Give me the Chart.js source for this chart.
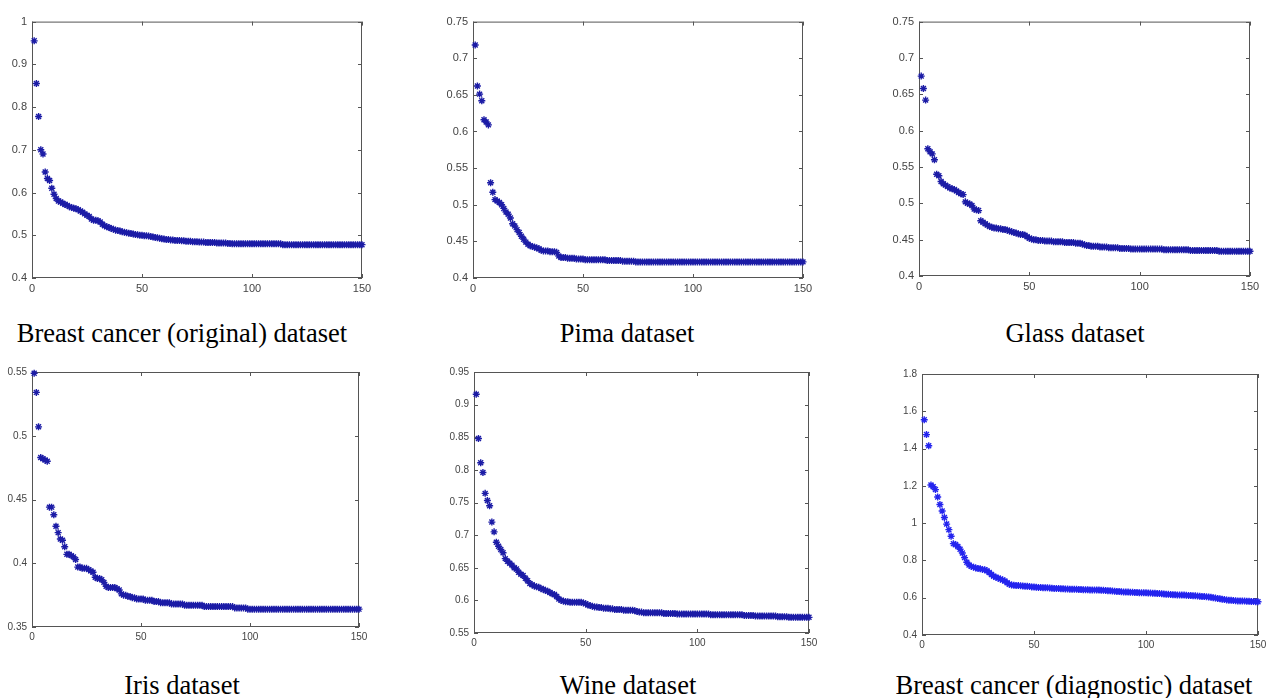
<!DOCTYPE html>
<html>
<head>
<meta charset="utf-8">
<script src="https://cdn.jsdelivr.net/npm/chart.js@4.4.1/dist/chart.umd.min.js"></script>
<style>
  html, body { margin: 0; padding: 0; background: #fff; }
  body { width: 1269px; height: 698px; position: relative; overflow: hidden; }
  canvas { position: absolute; }
  .caption {
    position: absolute; width: 440px; margin-left: -220px; text-align: center;
    font-family: "Liberation Serif", "Times New Roman", serif; font-size: 26.5px;
    line-height: 26px; color: #000; white-space: nowrap;
  }
</style>
</head>
<body>
<canvas id="c1"></canvas>
<canvas id="c2"></canvas>
<canvas id="c3"></canvas>
<canvas id="c4"></canvas>
<canvas id="c5"></canvas>
<canvas id="c6"></canvas>
<div class="caption" style="left:182px; top:320px">Breast cancer (original) dataset</div>
<div class="caption" style="left:627px; top:320px">Pima dataset</div>
<div class="caption" style="left:1075px; top:320px">Glass dataset</div>
<div class="caption" style="left:182px; top:672px">Iris dataset</div>
<div class="caption" style="left:628px; top:672px">Wine dataset</div>
<div class="caption" style="left:1074px; top:672px">Breast cancer (diagnostic) dataset</div>

<script>
// x = iteration number 1..150 for every panel
const iterations = Array.from({ length: 150 }, (_, i) => i + 1);
const xTicks = [0, 50, 100, 150];

// values
const breastOriginal = [
  0.955, 0.855, 0.778, 0.700, 0.690, 0.648, 0.633, 0.628, 0.610, 0.596,
  0.586, 0.580, 0.578, 0.575, 0.572, 0.570, 0.567, 0.565, 0.563, 0.562,
  0.560, 0.557, 0.554, 0.550, 0.547, 0.544, 0.538, 0.535, 0.535, 0.534,
  0.531, 0.526, 0.522, 0.520, 0.518, 0.516, 0.514, 0.512, 0.511, 0.510,
  0.508, 0.507, 0.506, 0.505, 0.504, 0.503, 0.502, 0.501, 0.500, 0.500,
  0.499, 0.499, 0.498, 0.497, 0.496, 0.495, 0.494, 0.493, 0.492, 0.491,
  0.490, 0.490, 0.489, 0.489, 0.488, 0.488, 0.488, 0.487, 0.487, 0.486,
  0.486, 0.486, 0.485, 0.485, 0.485, 0.484, 0.484, 0.484, 0.483, 0.483,
  0.483, 0.483, 0.483, 0.482, 0.482, 0.482, 0.482, 0.482, 0.481, 0.481,
  0.480, 0.480, 0.480, 0.480, 0.480, 0.480, 0.480, 0.480, 0.480, 0.480,
  0.480, 0.480, 0.480, 0.480, 0.480, 0.480, 0.480, 0.480, 0.480, 0.480,
  0.480, 0.480, 0.480, 0.478, 0.478, 0.478, 0.478, 0.478, 0.478, 0.478,
  0.478, 0.478, 0.478, 0.478, 0.478, 0.478, 0.478, 0.478, 0.478, 0.478,
  0.478, 0.478, 0.478, 0.478, 0.478, 0.478, 0.478, 0.478, 0.478, 0.478,
  0.478, 0.478, 0.478, 0.478, 0.478, 0.478, 0.478, 0.478, 0.478, 0.478
];
const pima = [
  0.718, 0.662, 0.651, 0.642, 0.616, 0.613, 0.609, 0.530, 0.517, 0.507,
  0.505, 0.503, 0.500, 0.495, 0.490, 0.487, 0.482, 0.474, 0.471, 0.466,
  0.462, 0.457, 0.453, 0.449, 0.446, 0.444, 0.443, 0.442, 0.441, 0.440,
  0.438, 0.437, 0.437, 0.437, 0.436, 0.436, 0.436, 0.435, 0.430, 0.428,
  0.428, 0.428, 0.427, 0.427, 0.427, 0.427, 0.426, 0.426, 0.426, 0.426,
  0.425, 0.425, 0.425, 0.425, 0.425, 0.425, 0.425, 0.425, 0.425, 0.425,
  0.424, 0.424, 0.424, 0.424, 0.424, 0.424, 0.424, 0.423, 0.423, 0.423,
  0.423, 0.423, 0.423, 0.422, 0.422, 0.422, 0.422, 0.422, 0.422, 0.422,
  0.422, 0.422, 0.422, 0.422, 0.422, 0.422, 0.422, 0.422, 0.422, 0.422,
  0.422, 0.422, 0.422, 0.422, 0.422, 0.422, 0.422, 0.422, 0.422, 0.422,
  0.422, 0.422, 0.422, 0.422, 0.422, 0.422, 0.422, 0.422, 0.422, 0.422,
  0.422, 0.422, 0.422, 0.422, 0.422, 0.422, 0.422, 0.422, 0.422, 0.422,
  0.422, 0.422, 0.422, 0.422, 0.422, 0.422, 0.422, 0.422, 0.422, 0.422,
  0.422, 0.422, 0.422, 0.422, 0.422, 0.422, 0.422, 0.422, 0.422, 0.422,
  0.422, 0.422, 0.422, 0.422, 0.422, 0.422, 0.422, 0.422, 0.422, 0.422
];
const glass = [
  0.675, 0.658, 0.642, 0.575, 0.571, 0.568, 0.560, 0.540, 0.538, 0.530,
  0.527, 0.525, 0.523, 0.521, 0.520, 0.519, 0.517, 0.515, 0.513, 0.512,
  0.502, 0.500, 0.499, 0.497, 0.492, 0.491, 0.490, 0.476, 0.474, 0.472,
  0.470, 0.468, 0.467, 0.466, 0.466, 0.465, 0.465, 0.464, 0.464, 0.463,
  0.462, 0.461, 0.460, 0.459, 0.458, 0.457, 0.457, 0.456, 0.454, 0.452,
  0.451, 0.450, 0.450, 0.449, 0.449, 0.449, 0.448, 0.448, 0.448, 0.448,
  0.447, 0.447, 0.447, 0.447, 0.447, 0.446, 0.446, 0.446, 0.446, 0.446,
  0.445, 0.445, 0.445, 0.444, 0.443, 0.442, 0.442, 0.441, 0.441, 0.441,
  0.441, 0.440, 0.440, 0.440, 0.440, 0.439, 0.439, 0.439, 0.439, 0.439,
  0.438, 0.438, 0.438, 0.438, 0.438, 0.437, 0.437, 0.437, 0.437, 0.437,
  0.437, 0.437, 0.437, 0.437, 0.437, 0.437, 0.437, 0.437, 0.437, 0.437,
  0.436, 0.436, 0.436, 0.436, 0.436, 0.436, 0.436, 0.436, 0.436, 0.436,
  0.436, 0.436, 0.435, 0.435, 0.435, 0.435, 0.435, 0.435, 0.435, 0.435,
  0.435, 0.435, 0.435, 0.435, 0.435, 0.434, 0.434, 0.434, 0.434, 0.434,
  0.434, 0.434, 0.434, 0.434, 0.434, 0.434, 0.434, 0.434, 0.434, 0.434
];
const iris = [
  0.549, 0.534, 0.507, 0.483, 0.482, 0.481, 0.480, 0.444, 0.444, 0.438,
  0.429, 0.424, 0.419, 0.418, 0.413, 0.407, 0.407, 0.406, 0.405, 0.403,
  0.397, 0.397, 0.396, 0.396, 0.396, 0.395, 0.394, 0.393, 0.389, 0.388,
  0.388, 0.387, 0.385, 0.382, 0.381, 0.381, 0.381, 0.381, 0.380, 0.379,
  0.376, 0.375, 0.375, 0.374, 0.374, 0.373, 0.373, 0.372, 0.372, 0.372,
  0.372, 0.371, 0.371, 0.371, 0.371, 0.370, 0.370, 0.370, 0.369, 0.369,
  0.369, 0.369, 0.369, 0.368, 0.368, 0.368, 0.368, 0.368, 0.368, 0.367,
  0.367, 0.367, 0.367, 0.367, 0.367, 0.367, 0.367, 0.367, 0.366, 0.366,
  0.366, 0.366, 0.366, 0.366, 0.366, 0.366, 0.366, 0.366, 0.366, 0.366,
  0.366, 0.366, 0.365, 0.365, 0.365, 0.365, 0.365, 0.365, 0.364, 0.364,
  0.364, 0.364, 0.364, 0.364, 0.364, 0.364, 0.364, 0.364, 0.364, 0.364,
  0.364, 0.364, 0.364, 0.364, 0.364, 0.364, 0.364, 0.364, 0.364, 0.364,
  0.364, 0.364, 0.364, 0.364, 0.364, 0.364, 0.364, 0.364, 0.364, 0.364,
  0.364, 0.364, 0.364, 0.364, 0.364, 0.364, 0.364, 0.364, 0.364, 0.364,
  0.364, 0.364, 0.364, 0.364, 0.364, 0.364, 0.364, 0.364, 0.364, 0.364
];
const wine = [
  0.916, 0.848, 0.811, 0.796, 0.764, 0.753, 0.745, 0.720, 0.705, 0.689,
  0.683, 0.678, 0.673, 0.664, 0.660, 0.657, 0.654, 0.650, 0.648, 0.643,
  0.640, 0.638, 0.634, 0.630, 0.626, 0.624, 0.622, 0.621, 0.620, 0.618,
  0.617, 0.615, 0.614, 0.612, 0.610, 0.609, 0.606, 0.602, 0.600, 0.599,
  0.598, 0.598, 0.597, 0.597, 0.597, 0.597, 0.597, 0.597, 0.596, 0.595,
  0.593, 0.592, 0.591, 0.590, 0.590, 0.589, 0.589, 0.588, 0.588, 0.588,
  0.587, 0.587, 0.586, 0.586, 0.586, 0.586, 0.585, 0.585, 0.585, 0.585,
  0.585, 0.584, 0.583, 0.582, 0.582, 0.581, 0.581, 0.581, 0.581, 0.581,
  0.581, 0.581, 0.581, 0.581, 0.580, 0.580, 0.580, 0.580, 0.580, 0.580,
  0.579, 0.579, 0.579, 0.579, 0.579, 0.579, 0.579, 0.579, 0.579, 0.579,
  0.579, 0.579, 0.579, 0.579, 0.579, 0.578, 0.578, 0.578, 0.578, 0.578,
  0.578, 0.578, 0.578, 0.578, 0.578, 0.578, 0.578, 0.578, 0.578, 0.578,
  0.577, 0.577, 0.577, 0.577, 0.577, 0.576, 0.576, 0.576, 0.576, 0.576,
  0.576, 0.576, 0.576, 0.576, 0.576, 0.575, 0.575, 0.575, 0.575, 0.575,
  0.574, 0.574, 0.574, 0.574, 0.574, 0.574, 0.574, 0.574, 0.574, 0.574
];
const breastDiagnostic = [
  1.555, 1.475, 1.415, 1.205, 1.195, 1.180, 1.140, 1.100, 1.065, 1.030,
  0.995, 0.965, 0.930, 0.890, 0.885, 0.875, 0.860, 0.840, 0.815, 0.790,
  0.775, 0.768, 0.764, 0.760, 0.757, 0.755, 0.752, 0.750, 0.745, 0.735,
  0.725, 0.715, 0.710, 0.705, 0.700, 0.695, 0.690, 0.680, 0.672, 0.668,
  0.667, 0.666, 0.665, 0.664, 0.663, 0.662, 0.661, 0.660, 0.658, 0.657,
  0.656, 0.655, 0.655, 0.654, 0.653, 0.653, 0.652, 0.651, 0.650, 0.650,
  0.649, 0.648, 0.648, 0.647, 0.647, 0.646, 0.646, 0.645, 0.645, 0.644,
  0.644, 0.643, 0.643, 0.643, 0.642, 0.642, 0.642, 0.641, 0.641, 0.640,
  0.640, 0.639, 0.638, 0.637, 0.636, 0.635, 0.634, 0.633, 0.632, 0.631,
  0.630, 0.630, 0.629, 0.629, 0.628, 0.628, 0.627, 0.627, 0.626, 0.626,
  0.625, 0.625, 0.624, 0.624, 0.623, 0.622, 0.621, 0.620, 0.619, 0.618,
  0.617, 0.616, 0.616, 0.615, 0.615, 0.614, 0.614, 0.613, 0.612, 0.612,
  0.611, 0.610, 0.609, 0.608, 0.607, 0.606, 0.605, 0.604, 0.602, 0.600,
  0.598, 0.596, 0.594, 0.592, 0.590, 0.588, 0.587, 0.586, 0.585, 0.584,
  0.583, 0.583, 0.582, 0.582, 0.581, 0.581, 0.580, 0.580, 0.579, 0.578
];

// y tick labels per panel
const breastOriginalTicks = [0.4, 0.5, 0.6, 0.7, 0.8, 0.9, 1];
const pimaTicks = [0.4, 0.45, 0.5, 0.55, 0.6, 0.65, 0.7, 0.75];
const glassTicks = [0.4, 0.45, 0.5, 0.55, 0.6, 0.65, 0.7, 0.75];
const irisTicks = [0.35, 0.4, 0.45, 0.5, 0.55];
const wineTicks = [0.55, 0.6, 0.65, 0.7, 0.75, 0.8, 0.85, 0.9, 0.95];
const breastDiagnosticTicks = [0.4, 0.6, 0.8, 1, 1.2, 1.4, 1.6, 1.8];

// matlab style box: frame + inward ticks on all four sides
const matlabBox = {
  id: 'matlabBox',
  beforeDatasetsDraw(chart) {
    const { ctx, chartArea: a, scales } = chart;
    ctx.save();
    ctx.strokeStyle = '#555';
    ctx.lineWidth = 1;
    ctx.strokeRect(a.left + 0.5, a.top + 0.5, a.right - a.left - 1, a.bottom - a.top - 1);
    ctx.beginPath();
    scales.x.ticks.forEach(t => {
      const px = Math.round(scales.x.getPixelForValue(t.value)) + 0.5;
      ctx.moveTo(px, a.bottom); ctx.lineTo(px, a.bottom - 4);
      ctx.moveTo(px, a.top); ctx.lineTo(px, a.top + 4);
    });
    scales.y.ticks.forEach(t => {
      const py = Math.round(scales.y.getPixelForValue(t.value)) + 0.5;
      ctx.moveTo(a.left, py); ctx.lineTo(a.left + 4, py);
      ctx.moveTo(a.right, py); ctx.lineTo(a.right - 4, py);
    });
    ctx.stroke();
    ctx.restore();
  }
};

const fmt = v => String(+Number(v).toFixed(4));

function makePanel(id, box, values, yTicks, color, fontSize) {
  const yAxisW = 34, xAxisH = 22, padTop = 8, padRight = 14;
  const canvas = document.getElementById(id);
  const w = box.right - box.left + yAxisW + padRight;
  const h = box.bottom - box.top + padTop + xAxisH;
  canvas.width = w; canvas.height = h;
  canvas.style.left = (box.left - yAxisW) + 'px';
  canvas.style.top = (box.top - padTop) + 'px';
  canvas.style.width = w + 'px'; canvas.style.height = h + 'px';

  const font = { family: '"Liberation Sans", Arial, sans-serif', size: fontSize };
  return new Chart(canvas, {
    type: 'scatter',
    data: {
      datasets: [{
        data: values.map((v, i) => ({ x: iterations[i], y: v })),
        pointStyle: 'star',
        pointRadius: 3.5,
        borderWidth: 1.4,
        borderColor: color,
        backgroundColor: color,
        clip: false,
      }],
    },
    options: {
      responsive: false,
      animation: false,
      devicePixelRatio: 1,
      layout: { padding: { top: padTop, right: padRight, left: 0, bottom: 0 } },
      plugins: { legend: { display: false }, tooltip: { enabled: false } },
      scales: {
        x: {
          type: 'linear', min: 0, max: 150,
          afterBuildTicks: s => { s.ticks = xTicks.map(v => ({ value: v })); },
          afterFit: s => { s.height = xAxisH; },
          grid: { display: false, drawTicks: false },
          border: { display: false },
          ticks: { padding: 4, color: '#444', font, maxRotation: 0, autoSkip: false, callback: fmt },
        },
        y: {
          type: 'linear', min: yTicks[0], max: yTicks[yTicks.length - 1],
          afterBuildTicks: s => { s.ticks = yTicks.map(v => ({ value: v })); },
          afterFit: s => { s.width = yAxisW; },
          grid: { display: false, drawTicks: false },
          border: { display: false },
          ticks: { padding: 5, color: '#444', font, autoSkip: false, callback: fmt },
        },
      },
    },
    plugins: [matlabBox],
  });
}

const navy = '#1c1ca6';
makePanel('c1', { left: 32, right: 362, top: 18, bottom: 278 }, breastOriginal, breastOriginalTicks, navy, 11);
makePanel('c2', { left: 473, right: 803, top: 18, bottom: 278 }, pima, pimaTicks, navy, 11);
makePanel('c3', { left: 919, right: 1250, top: 18, bottom: 276 }, glass, glassTicks, navy, 11);
makePanel('c4', { left: 32, right: 359, top: 369, bottom: 627 }, iris, irisTicks, navy, 10);
makePanel('c5', { left: 474, right: 809, top: 369, bottom: 633 }, wine, wineTicks, navy, 10);
makePanel('c6', { left: 922, right: 1258, top: 371, bottom: 635 }, breastDiagnostic, breastDiagnosticTicks, '#2424ee', 10);
</script>
</body>
</html>
